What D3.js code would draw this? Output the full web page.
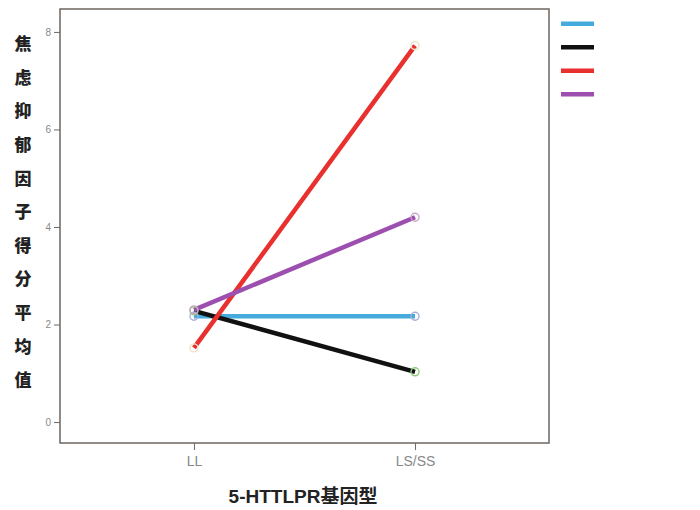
<!DOCTYPE html>
<html><head><meta charset="utf-8">
<script src="https://cdn.jsdelivr.net/npm/d3@7"></script>
<style>body{margin:0;background:#fff}</style>
</head><body>
<svg id="c" width="700" height="510"></svg>
<script>
const categories = ["LL", "LS/SS"];
const seriesNames = ["s1", "s2", "s3", "s4"];
const blueValues = [2.17, 2.17];
const blackValues = [2.28, 1.03];
const redValues = [1.52, 7.72];
const purpleValues = [2.30, 4.20];
const yTicks = [0, 2, 4, 6, 8];
const yTitle = "焦虑抑郁因子得分平均值";
const xTitle = "5-HTTLPR基因型";

const series = [
  {name: seriesNames[0], values: blueValues, color: "#45aadc", marker: "#a8acd8"},
  {name: seriesNames[1], values: blackValues, color: "#111111", marker: "#8ccc78"},
  {name: seriesNames[2], values: redValues, color: "#e8302e", marker: "#ece2c4"},
  {name: seriesNames[3], values: purpleValues, color: "#9c4fae", marker: "#c8a4c8"}
];

const svg = d3.select("#c");
const L = 60, R = 549, T = 9, B = 443;
const x = d3.scalePoint().domain(categories).range([L, R]).padding(0.606);
const y = d3.scaleLinear().domain([-0.43, 8.47]).range([B, T]);

const frameColor = "#6e6660";
svg.append("rect").attr("x", L).attr("y", T).attr("width", R - L).attr("height", B - T)
  .attr("fill", "none").attr("stroke", frameColor).attr("stroke-width", 1.5);

const yAxis = svg.append("g").attr("transform", `translate(${L},0)`)
  .call(d3.axisLeft(y).tickValues(yTicks).tickSize(6).tickPadding(3).tickFormat(d3.format("d")));
yAxis.select(".domain").remove();
yAxis.selectAll("line").attr("stroke", frameColor);
yAxis.selectAll("text").attr("fill", "#888").style("font-family", "Arial, 'Liberation Sans', sans-serif").style("font-size", "10px");

const xAxis = svg.append("g").attr("transform", `translate(0,${B})`)
  .call(d3.axisBottom(x).tickSize(7).tickPadding(6));
xAxis.select(".domain").remove();
xAxis.selectAll("line").attr("stroke", frameColor);
xAxis.selectAll("text").attr("fill", "#888").style("font-family", "Arial, 'Liberation Sans', sans-serif").style("font-size", "14px");

const line = d3.line().x((d, i) => x(categories[i])).y(d => y(d));
series.forEach(s => {
  svg.append("path").datum(s.values).attr("d", line)
    .attr("fill", "none").attr("stroke", s.color).attr("stroke-width", 4.5);
});
series.forEach(s => {
  svg.selectAll(null).data(s.values).enter().append("circle")
    .attr("cx", (d, i) => x(categories[i])).attr("cy", d => y(d)).attr("r", 4)
    .attr("fill", "none").attr("stroke", s.marker).attr("stroke-width", 1.4);
});

// legend
const lg = d3.scaleBand().domain(seriesNames).range([12, 106]);
series.forEach(s => {
  const yy = lg(s.name) + lg.bandwidth() / 2;
  svg.append("line").attr("x1", 561).attr("x2", 594).attr("y1", yy).attr("y2", yy)
    .attr("stroke", s.color).attr("stroke-width", 4.5);
});

// y title stacked
const chars = Array.from(yTitle);
const cy = d3.scalePoint().domain(d3.range(chars.length)).range([44, 380]);
svg.append("g").selectAll("text").data(chars).enter().append("text")
  .attr("x", 23).attr("y", (d, i) => cy(i)).attr("dy", "0.36em")
  .attr("text-anchor", "middle").style("font-family", "'Noto Sans CJK SC', sans-serif")
  .style("font-weight", "900").style("font-size", "17px").attr("fill", "#222").text(d => d);

svg.append("text").attr("x", 303).attr("y", 503).attr("text-anchor", "middle")
  .style("font-family", "Arial, 'Liberation Sans', 'Noto Sans CJK SC', sans-serif")
  .style("font-weight", "bold").style("font-size", "19px").attr("fill", "#222").text(xTitle);
</script>
</body></html>
